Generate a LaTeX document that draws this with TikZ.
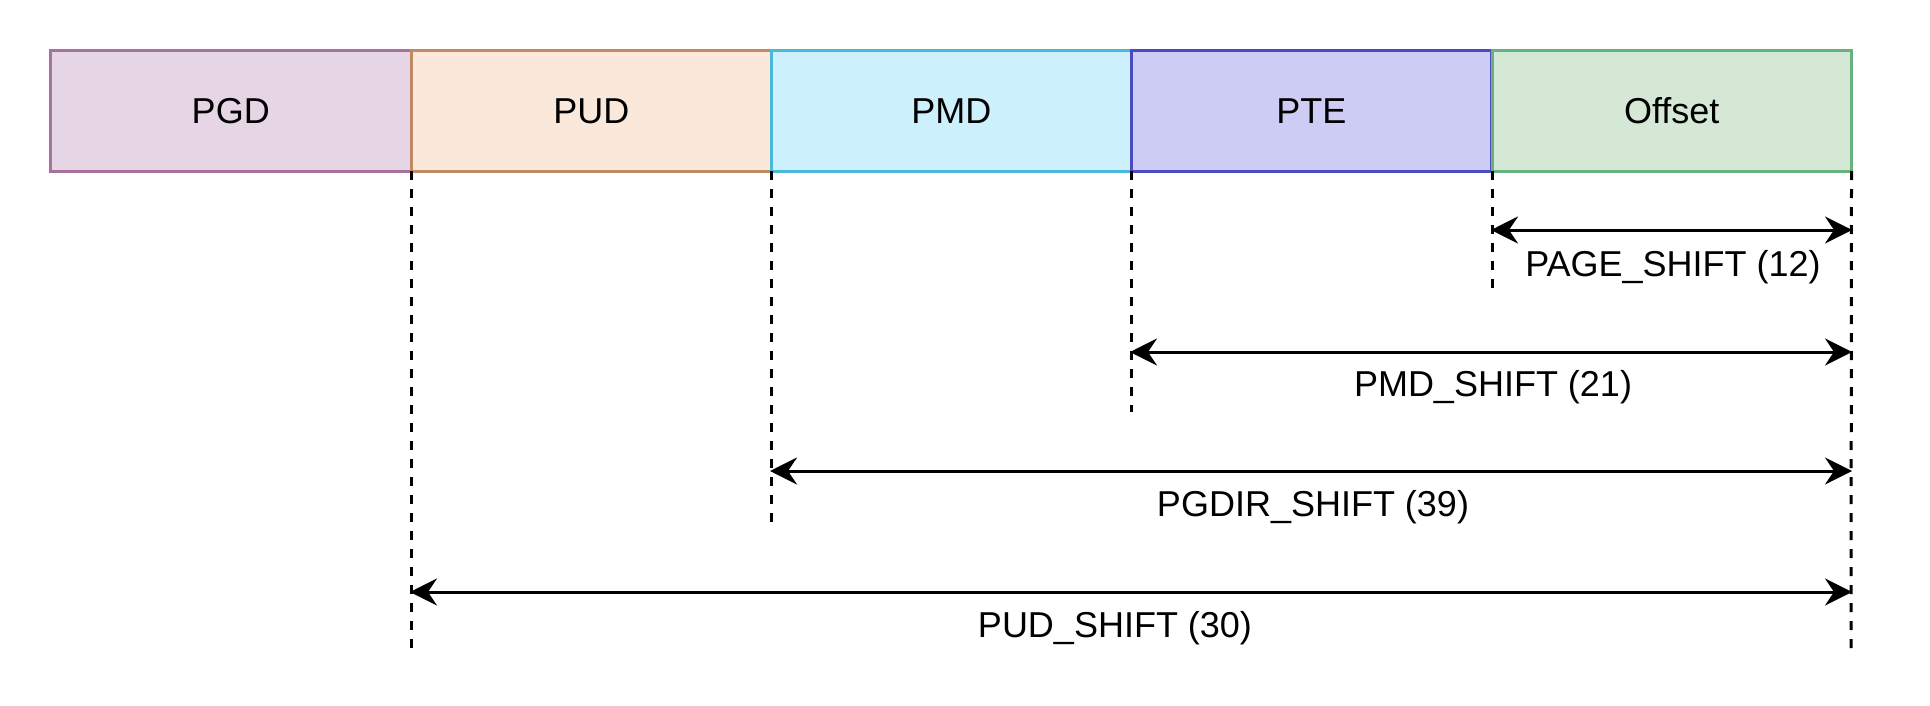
\documentclass[tikz,border=0pt]{standalone}
\usepackage{fontspec}
\setmainfont{Liberation Sans}
\usetikzlibrary{arrows.meta}
\definecolor{pgdfill}{HTML}{E6D5E4}\definecolor{pgdline}{HTML}{A5739E}
\definecolor{pudfill}{HTML}{FAE9DA}\definecolor{pudline}{HTML}{C08A64}
\definecolor{pmdfill}{HTML}{CCF0FC}\definecolor{pmdline}{HTML}{4CB8D8}
\definecolor{ptefill}{HTML}{CCCCF4}\definecolor{pteline}{HTML}{4C4CC0}
\definecolor{offfill}{HTML}{D5E8D5}\definecolor{offline}{HTML}{66B380}
\tikzset{
  field/.style={draw, line width=3pt, anchor=north west, minimum width=360.5pt, minimum height=120pt, inner sep=0pt, outer sep=0pt, text height=25.8pt, text depth=0pt, font=\fontsize{36}{43}\selectfont},
  guide/.style={line width=3pt, dash pattern=on 9pt off 9pt},
  span/.style={line width=3pt, {Stealth[length=27pt,width=27pt,inset=9pt]}-{Stealth[length=27pt,width=27pt,inset=9pt]}, shorten <=-1pt, shorten >=-1pt},
  lbl/.style={font=\fontsize{36}{43}\selectfont, inner sep=0pt}
}
\begin{document}
\begin{tikzpicture}[x=1pt,y=-1pt]
\useasboundingbox (0,0) rectangle (1930,706);
\node[field, fill=pgdfill, draw=pgdline] (pgd) at (50.5,51) {PGD};
\node[field, fill=pudfill, draw=pudline] (pud) at (411,51) {PUD};
\node[field, fill=pmdfill, draw=pmdline] (pmd) at (771,51) {PMD};
\node[field, fill=ptefill, draw=pteline] (pte) at (1131,51) {PTE};
\node[field, fill=offfill, draw=offline, minimum width=359.5pt] (off) at (1492,51) {Offset};
% guide line ends
\coordinate (g1) at (411,648);
\coordinate (g2) at (771,523);
\coordinate (g3) at (1131,412);
\coordinate (g4) at (1492,288);
\coordinate (g5) at (1851,648);
\draw[guide] (pud.south west) -- (g1);
\draw[guide] (pmd.south west) -- (g2);
\draw[guide] (pte.south west) -- (g3);
\draw[guide] (off.south west) -- (g4);
\draw[guide] (off.south east) -- (g5);
% arrow ends
\coordinate (a1l) at (1492,230); \coordinate (a1r) at (1851,230);
\coordinate (a2l) at (1131,352); \coordinate (a2r) at (1851,352);
\coordinate (a3l) at (771,471);  \coordinate (a3r) at (1851,471);
\coordinate (a4l) at (411,592);  \coordinate (a4r) at (1851,592);
\draw[span] (a1l) -- (a1r);
\draw[span] (a2l) -- (a2r);
\draw[span] (a3l) -- (a3r);
\draw[span] (a4l) -- (a4r);
\node[lbl] (t1) at (1673,267) {PAGE\_SHIFT (12)};
\node[lbl] (t2) at (1493,387) {PMD\_SHIFT (21)};
\node[lbl] (t3) at (1313,507) {PGDIR\_SHIFT (39)};
\node[lbl] (t4) at (1115,628) {PUD\_SHIFT (30)};
\end{tikzpicture}
\end{document}
